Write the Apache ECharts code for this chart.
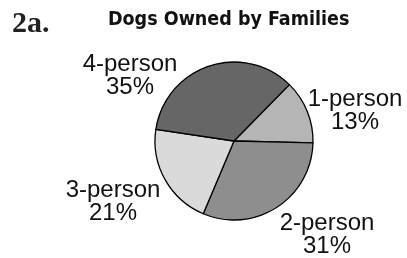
<!DOCTYPE html>
<html>
<head>
<meta charset="utf-8">
<script src="https://cdn.jsdelivr.net/npm/echarts@6/dist/echarts.min.js"></script>
<style>
  html, body { margin: 0; padding: 0; background: #fff; }
  #chart { width: 407px; height: 258px; }
</style>
</head>
<body>
<div id="chart"></div>
<script>
// 数据
const categories = ['1-person', '2-person', '3-person', '4-person'];
const percents = [13, 31, 21, 35];
const sliceColors = ['#b5b5b5', '#8e8e8e', '#dadada', '#666666'];

// 标签中心位置（像素）
const labelSpots = [[355, 111], [327, 235], [113, 202], [130, 76]];

const myChart = echarts.init(document.getElementById('chart'));

const option = {
  animation: false,
  title: [
    {
      text: '2a.',
      left: 12,
      top: 9,
      padding: 0,
      textStyle: { fontFamily: 'Liberation Serif', fontWeight: 'bold', fontSize: 30, color: '#222' }
    },
    {
      text: 'Dogs Owned by Families',
      left: 108,
      top: 10,
      padding: 0,
      textStyle: { fontFamily: 'DejaVu Sans Condensed', fontWeight: 'bold', fontSize: 19.5, color: '#111' }
    }
  ],
  series: [
    {
      type: 'pie',
      center: [234, 141],
      radius: 79,
      startAngle: 45.5,
      clockwise: true,
      silent: true,
      data: categories.map((name, i) => ({
        name: name,
        value: percents[i],
        itemStyle: { color: sliceColors[i] }
      })),
      itemStyle: { borderColor: '#000', borderWidth: 1.3 },
      label: {
        show: true,
        position: 'outside',
        overflow: 'none',
        formatter: '{c|{b}}\n{c|{c}%}',
        rich: {
          c: { align: 'center', fontFamily: 'Liberation Sans', fontSize: 24, lineHeight: 23, color: '#111' }
        }
      },
      labelLine: { show: false },
      labelLayout: function (params) {
        const p = labelSpots[params.dataIndex];
        return { x: p[0], y: p[1], align: 'center', verticalAlign: 'middle', width: 120 };
      }
    }
  ]
};

myChart.setOption(option);
</script>
</body>
</html>
